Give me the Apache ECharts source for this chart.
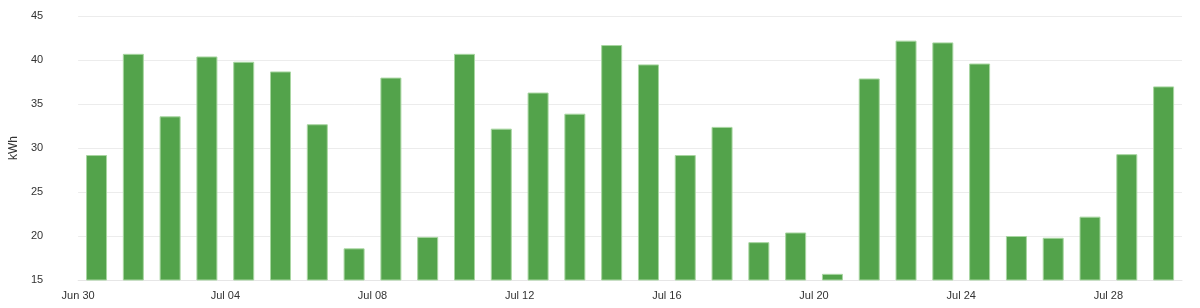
<!DOCTYPE html>
<html>
<head>
<meta charset="utf-8">
<script src="https://cdn.jsdelivr.net/npm/echarts@6/dist/echarts.min.js"></script>
<style>
html,body{margin:0;padding:0;background:#fff;}
#chart{width:1200px;height:308px;}
</style>
</head>
<body>
<div id="chart"></div>
<script>
var days = ["Jun 30","Jul 01","Jul 02","Jul 03","Jul 04","Jul 05","Jul 06","Jul 07","Jul 08","Jul 09",
            "Jul 10","Jul 11","Jul 12","Jul 13","Jul 14","Jul 15","Jul 16","Jul 17","Jul 18","Jul 19",
            "Jul 20","Jul 21","Jul 22","Jul 23","Jul 24","Jul 25","Jul 26","Jul 27","Jul 28","Jul 29"];
var energy = [29.2,40.7,33.6,40.4,39.8,38.7,32.7,18.6,38.0,19.9,
              40.7,32.2,36.3,33.9,41.7,39.5,29.2,32.4,19.3,20.4,
              15.7,37.9,42.2,42.0,39.6,20.0,19.8,22.2,29.3,37.0];
var tickLabels = ["Jun 30","Jul 04","Jul 08","Jul 12","Jul 16","Jul 20","Jul 24","Jul 28"];
var yTicks = [15,20,25,30,35,40,45];

var font = 'Liberation Sans';
var chart = echarts.init(document.getElementById('chart'));
var seriesData = energy.map(function(v,i){ return [i + 0.5, v]; });
chart.setOption({
  animation: false,
  grid: {left: 78, right: 18, top: 16, bottom: 28},
  xAxis: {
    type: 'value', min: 0, max: days.length, interval: 4,
    axisLine: {show: true, lineStyle: {color: '#e6e6e6'}},
    axisTick: {show: false},
    splitLine: {show: false},
    axisLabel: {
      color: '#333', fontFamily: font, fontSize: 11, margin: 10, showMaxLabel: false,
      formatter: function(v){ var k = Math.round(v/4); return (v % 4 === 0 && k < tickLabels.length) ? tickLabels[k] : ''; }
    }
  },
  yAxis: {
    type: 'value', min: yTicks[0], max: yTicks[yTicks.length-1], interval: 5,
    name: 'kWh', nameLocation: 'middle', nameGap: 53,
    nameTextStyle: {color: '#333', fontFamily: font, fontSize: 12},
    axisLine: {show: false},
    axisTick: {show: false},
    splitLine: {show: true, lineStyle: {color: '#ececec'}},
    axisLabel: {color: '#333', fontFamily: font, fontSize: 11, margin: 35}
  },
  series: [{
    type: 'bar',
    data: seriesData,
    barWidth: 21,
    itemStyle: {color: '#53a34b', borderColor: '#a8d6a1', borderWidth: 1}
  }]
});
</script>
</body>
</html>
